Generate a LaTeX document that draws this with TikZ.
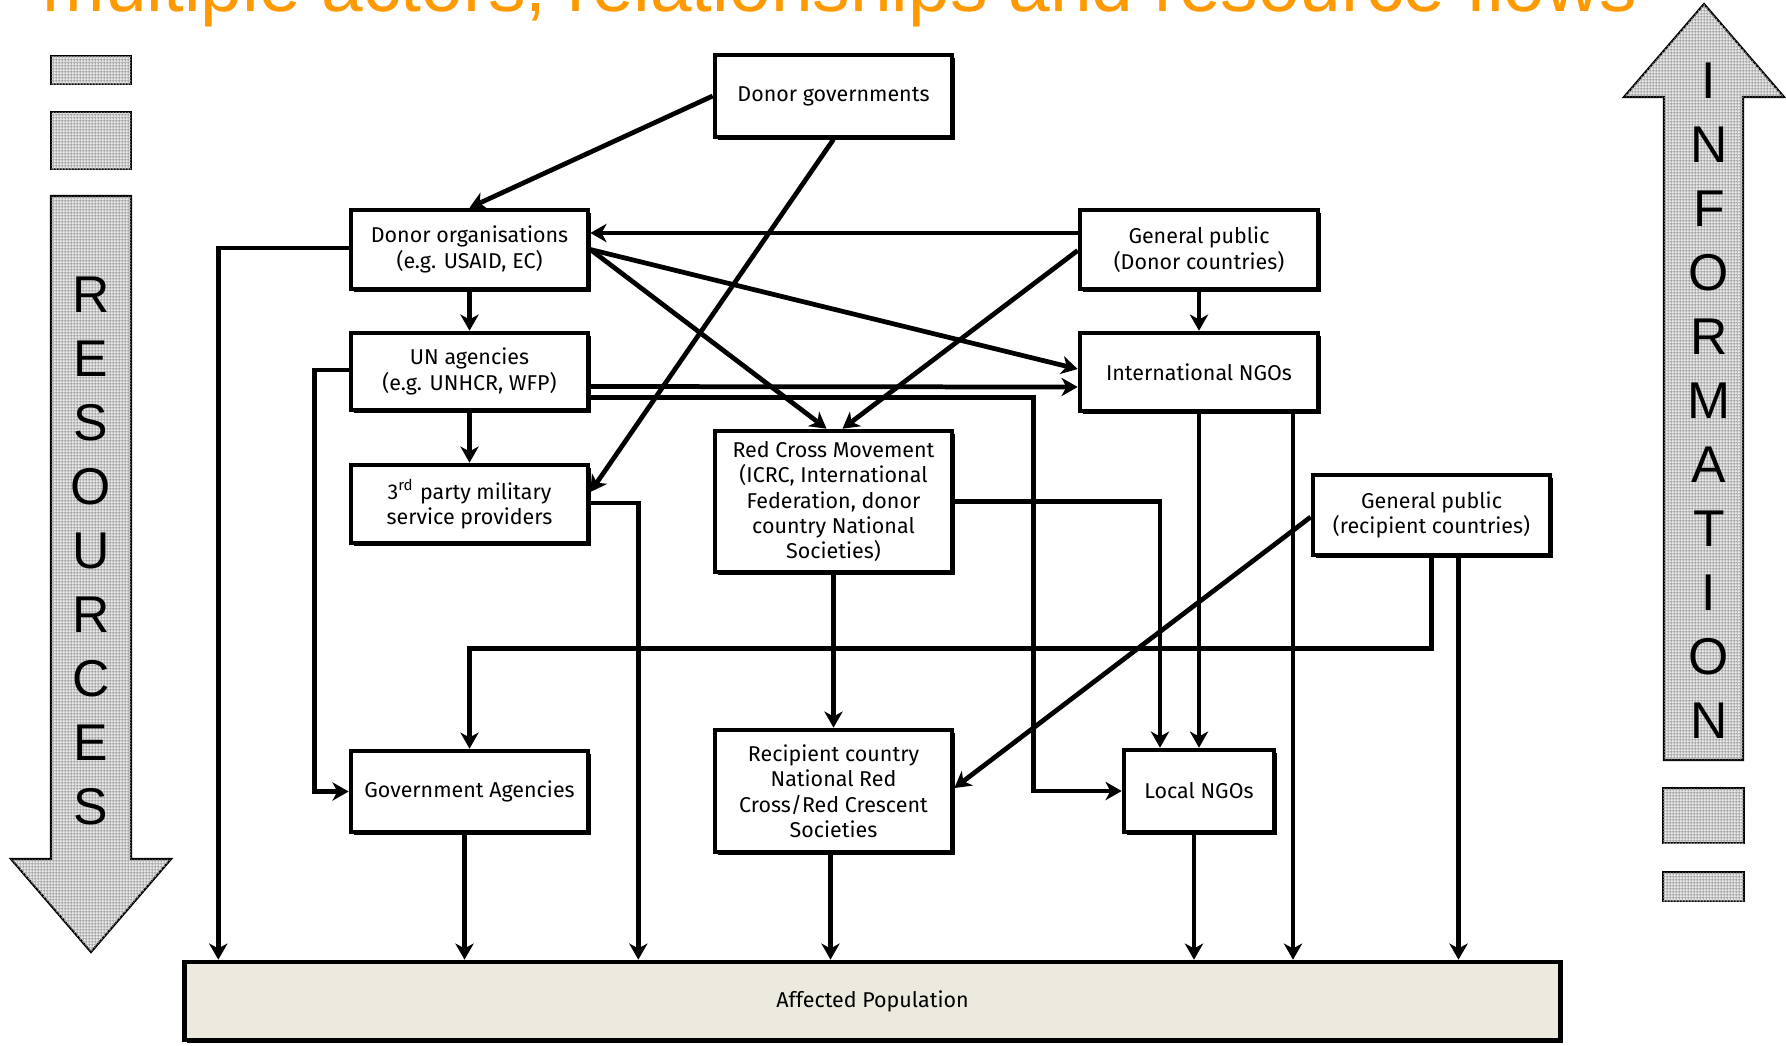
\documentclass[tikz,border=0pt]{standalone}
\usepackage{fontspec}
\setmainfont{Fira Sans}
\newfontfamily\arialf{Liberation Sans}
\usetikzlibrary{arrows.meta,calc,shadows,patterns.meta}
\definecolor{ttl}{RGB}{255,153,0}
\definecolor{popfill}{RGB}{236,233,222}
\newcommand\boxfont{\fontsize{6.1pt}{7.25pt}\selectfont}
\tikzset{
  box/.style={draw=black, line width=1.3pt, fill=white, align=center, inner sep=0pt,
    font=\boxfont, drop shadow={shadow xshift=0.8pt, shadow yshift=-0.8pt, opacity=1, fill=black}},
  arr/.style={line width=1.35pt, -{Stealth[length=4.6pt,width=5.2pt,inset=1.4pt]}},
  bigl/.style={inner sep=0pt, font=\arialf\fontsize{14.7pt}{14.7pt}\selectfont},
  bigarrow/.style={draw=black, line width=0.6pt, fill=gray!18,
    postaction={pattern={Hatch[angle=0,distance=0.9pt,line width=0.3pt]}, pattern color=gray!75}}
}
\begin{document}
\begin{tikzpicture}[x=0.01cm,y=-0.01cm]
\useasboundingbox (0,0) rectangle (1786,1045);
% title
\node[anchor=base west, inner sep=0pt, text=ttl, font=\arialf\fontsize{21.3pt}{21.3pt}\selectfont] (title) at (42,11) {multiple actors, relationships and resource flows};

% left decoration
\path[bigarrow] (51,56) rectangle (131,84);
\path[bigarrow] (51,112) rectangle (131,169);
\path[bigarrow] (51,196) -- (131,196) -- (131,859) -- (171,859) -- (91,952) -- (11,859) -- (51,859) -- cycle;
\foreach \l [count=\i] in {R,E,S,O,U,R,C,E,S}
  \node[bigl] (res\i) at (91,231+64*\i) {\l};

% right decoration
\path[bigarrow] (1664,760) -- (1743,760) -- (1743,97) -- (1784,97) -- (1704,4) -- (1624,97) -- (1664,97) -- cycle;
\path[bigarrow] (1663,788) rectangle (1744,843);
\path[bigarrow] (1663,872) rectangle (1744,901);
\foreach \l [count=\i] in {I,N,F,O,R,M,A,T,I,O,N}
  \node[bigl] (inf\i) at (1709,17+64*\i) {\l};

% boxes
\node[box, minimum width=2.37cm, minimum height=0.82cm] (dgov) at (833.5,96) {Donor governments};
\node[box, minimum width=2.37cm, minimum height=0.79cm] (dorg) at (469.5,249.5) {Donor organisations\\(e.g. USAID, EC)};
\node[box, minimum width=2.37cm, minimum height=0.77cm] (un) at (469.5,371.5) {UN agencies\\(e.g. UNHCR, WFP)};
\node[box, minimum width=2.37cm, minimum height=0.78cm] (mil) at (469.5,504) {3\textsuperscript{rd} party military\\service providers};
\node[box, minimum width=2.37cm, minimum height=1.41cm] (rcm) at (833.5,501.5) {Red Cross Movement\\(ICRC, International\\Federation, donor\\country National\\Societies)};
\node[box, minimum width=2.38cm, minimum height=0.79cm] (gpd) at (1199,249.5) {General public\\(Donor countries)};
\node[box, minimum width=2.38cm, minimum height=0.78cm] (ingo) at (1199,372) {International NGOs};
\node[box, minimum width=2.37cm, minimum height=0.80cm] (gpr) at (1431.5,515) {General public\\(recipient countries)};
\node[box, minimum width=2.37cm, minimum height=0.81cm] (gov) at (469.5,791.5) {Government Agencies};
\node[box, minimum width=2.37cm, minimum height=1.22cm] (nrc) at (833.5,791) {Recipient country\\National Red\\Cross/Red Crescent\\Societies};
\node[box, minimum width=1.50cm, minimum height=0.82cm] (lngo) at (1199,791) {Local NGOs};
\node[box, fill=popfill, minimum width=13.75cm, minimum height=0.78cm] (pop) at (872.5,1001) {Affected Population};

% connectors
\draw[arr] (dgov.west) -- (dorg.north);
\draw[arr] (dgov.south) -- ($(mil.east)+(0,-12)$);
\draw[arr] ($(gpd.west)+(0,-16.5)$) -- ($(dorg.east)+(0,-16.5)$);
\draw[arr] ($(gpd.west)+(0,1)$) -- ($(rcm.north)+(9,0)$);
\draw[arr] (dorg.east) -- ($(rcm.north)+(-7,0)$);
\draw[arr] (dorg.east) -- ($(ingo.west)+(0,-3)$);
\draw[arr] (dorg.south) -- (un.north);
\draw[arr] (un.south) -- (mil.north);
\draw[arr] ($(un.east)+(0,15)$) -- ($(ingo.west)+(0,15)$);
\draw[arr] ($(un.east)+(0,26)$) -| ($(lngo.west)+(-88,0)$) -- (lngo.west);
\draw[arr] ($(un.west)+(0,-1.5)$) -| ($(gov.west)+(-34,0)$) -- (gov.west);
\draw[arr] ($(dorg.west)+(0,-1.5)$) -| ($(pop.north west)+(36,0)$);
\draw[arr] ($(mil.east)+(0,-1)$) -| ($(pop.north west)+(456,0)$);
\draw[arr] (rcm.east) -| ($(lngo.north)+(-39,0)$);
\draw[arr] (rcm.south) -- (nrc.north);
\draw[arr] (gpd.south) -- (ingo.north);
\draw[arr] (ingo.south) -- (lngo.north);
\draw[arr] ($(ingo.south)+(94,0)$) coordinate (r1) -- (r1 |- pop.north);
\draw[arr] ($(gpr.west)+(0,2)$) -- ($(nrc.east)+(0,-3)$);
\draw[arr] (gpr.south) |- ($(gov.north)+(0,-100)$) -- (gov.north);
\draw[arr] ($(gpr.south)+(27,0)$) coordinate (u1) -- (u1 |- pop.north);
\draw[arr] ($(gov.south)+(-5,0)$) coordinate (v1) -- (v1 |- pop.north);
\draw[arr] ($(nrc.south)+(-3,0)$) coordinate (w1) -- (w1 |- pop.north);
\draw[arr] ($(lngo.south)+(-5,0)$) coordinate (x1) -- (x1 |- pop.north);
\end{tikzpicture}
\end{document}
